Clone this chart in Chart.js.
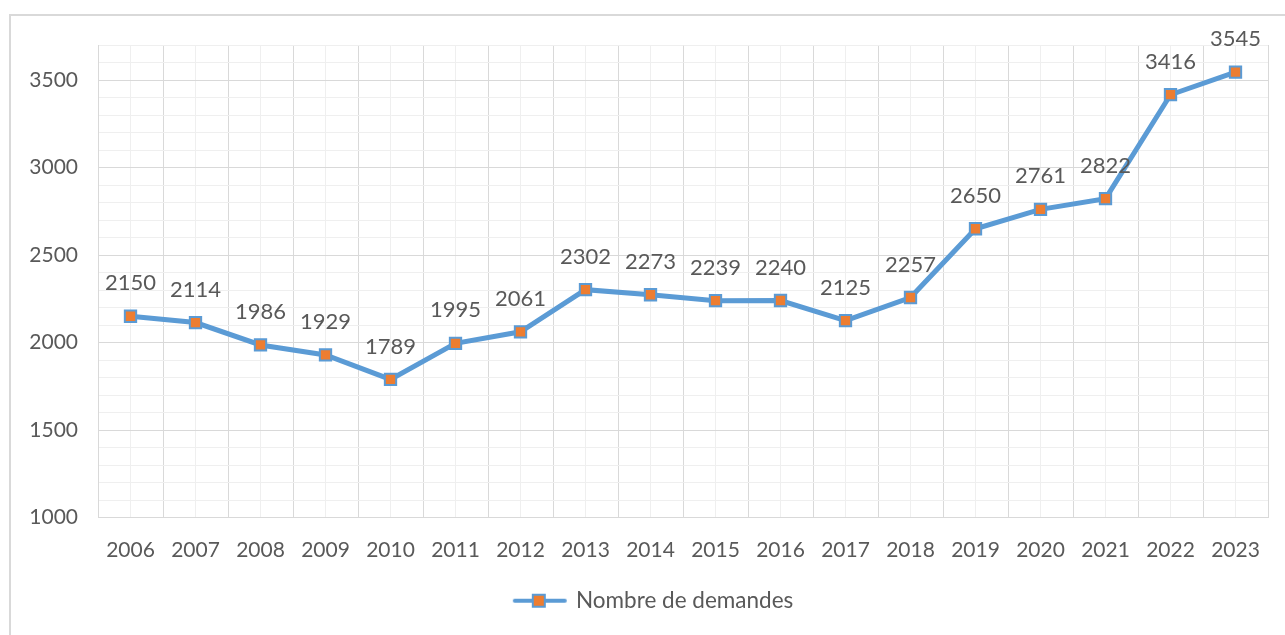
<!DOCTYPE html>
<html><head><meta charset="utf-8">
<script src="https://cdn.jsdelivr.net/npm/chart.js@4"></script>
<style>
html,body{margin:0;padding:0;background:#fff;overflow:hidden}
#frame{position:absolute;left:9px;top:14px;width:1300px;height:650px;border:2px solid #d9d9d9;box-sizing:border-box}
#wrap{position:absolute;left:0;top:0;width:1285px;height:635px}
</style></head><body>
<div id="frame"></div>
<div id="wrap"><canvas id="c" width="1285" height="635"></canvas></div>
<script>
const years = ['2006','2007','2008','2009','2010','2011','2012','2013','2014','2015','2016','2017','2018','2019','2020','2021','2022','2023'];
const demandes = [2150,2114,1986,1929,1789,1995,2061,2302,2273,2239,2240,2125,2257,2650,2761,2822,3416,3545];
const seriesName = 'Nombre de demandes';
const yMin = 1000, yMax = 3700, yMinorStep = 100, yMajorStep = 500;

const BLUE = '#5B9BD5', ORANGE = '#ED7D31', TXT = '#595959', FONT = 'Lato';

// legend symbol: line with square marker (transparent margin on the left)
const sym = document.createElement('canvas');
sym.width = 98; sym.height = 16;
(function(){
  const g = sym.getContext('2d');
  g.strokeStyle = BLUE; g.lineWidth = 4; g.lineCap = 'round';
  g.beginPath(); g.moveTo(44, 8); g.lineTo(94, 8); g.stroke();
  g.fillStyle = ORANGE; g.fillRect(62, 2, 12, 12);
  g.lineWidth = 2; g.strokeRect(62, 2, 12, 12);
})();

const labelPlugin = {
  id: 'valueLabels',
  afterDatasetsDraw(chart) {
    const ctx = chart.ctx;
    const meta = chart.getDatasetMeta(0);
    ctx.save();
    ctx.font = '22px ' + FONT;
    ctx.fillStyle = TXT;
    ctx.textAlign = 'center';
    ctx.textBaseline = 'middle';
    meta.data.forEach((pt, i) => {
      ctx.fillText(String(demandes[i]), pt.x, pt.y - 33);
    });
    ctx.restore();
  }
};

new Chart(document.getElementById('c'), {
  type: 'line',
  data: {
    labels: years,
    datasets: [{
      label: seriesName,
      data: demandes,
      borderColor: BLUE,
      borderWidth: 5,
      backgroundColor: ORANGE,
      pointStyle: 'rect',
      pointRadius: 8,
      pointHoverRadius: 8,
      pointBorderColor: BLUE,
      pointBorderWidth: 2,
      pointBackgroundColor: ORANGE,
      tension: 0,
      clip: false
    }]
  },
  options: {
    responsive: false,
    animation: false,
    layout: { padding: { left: 0, right: 17, top: 45, bottom: 13 } },
    plugins: {
      tooltip: { enabled: false },
      legend: {
        position: 'bottom',
        labels: {
          usePointStyle: true,
          pointStyle: sym,
          pointStyleWidth: 90,
          color: TXT,
          font: { family: FONT, size: 22.5 },
          padding: 10,
          generateLabels(chart) {
            return [{ text: seriesName, pointStyle: sym, fontColor: TXT, lineWidth: 0, strokeStyle: 'rgba(0,0,0,0)', fillStyle: 'rgba(0,0,0,0)', datasetIndex: 0 }];
          }
        }
      }
    },
    scales: {
      x: {
        type: 'category',
        offset: true,
        grid: { offset: true, color: '#d9d9d9', lineWidth: 1, drawTicks: false },
        border: { color: '#d9d9d9', width: 1 },
        ticks: { color: TXT, font: { family: FONT, size: 21 }, padding: 20, maxRotation: 0, autoSkip: false },
        afterFit(s) { s.height = 62; }
      },
      x2: {
        type: 'category',
        position: 'bottom',
        labels: years,
        offset: true,
        grid: { offset: false, color: '#efefef', lineWidth: 1, drawTicks: false },
        border: { display: false },
        ticks: { display: false },
        afterFit(s) { s.height = 0; }
      },
      y: {
        min: yMin, max: yMax,
        grid: {
          drawTicks: false,
          color: (c) => (c.tick && c.tick.value % yMajorStep === 0) ? '#d9d9d9' : '#efefef'
        },
        border: { color: '#d9d9d9', width: 1 },
        ticks: {
          stepSize: yMinorStep,
          autoSkip: false,
          color: TXT,
          font: { family: FONT, size: 21 },
          padding: 20,
          callback: (v) => (v % yMajorStep === 0 ? String(v) : '')
        },
        afterFit(s) { s.width = 98; }
      }
    }
  },
  plugins: [labelPlugin]
});
</script>
</body></html>
